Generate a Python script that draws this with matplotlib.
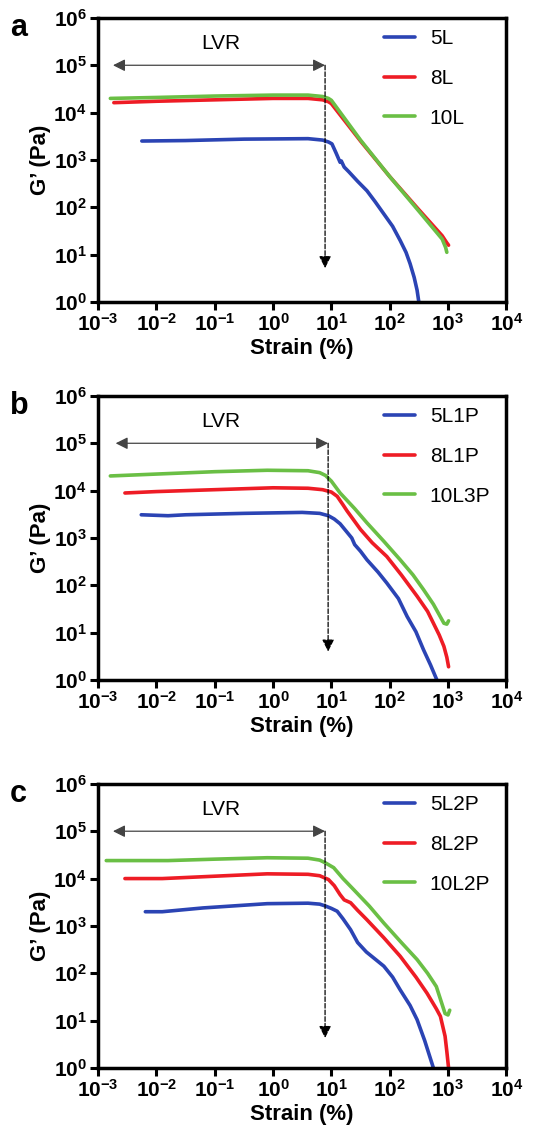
import matplotlib
matplotlib.use("Agg")
import matplotlib.pyplot as plt

plt.rcParams['font.family'] = ['Liberation Sans', 'DejaVu Sans']
plt.rcParams['mathtext.fontset'] = 'custom'
plt.rcParams['mathtext.rm'] = 'Liberation Sans:bold'
plt.rcParams['mathtext.bf'] = 'Liberation Sans:bold'

# colors
blue = '#2b44b4'
red = '#ee1c25'
green = '#6abf45'

# panel a (log10 strain, log10 G')
a_labels = ['5L', '8L', '10L']
a_5L_x = [-2.25, -1.5, -0.5, 0.6, 0.85, 0.95, 1.01, 1.08, 1.15, 1.17, 1.22, 1.3, 1.45, 1.61,
          1.75, 1.9, 2.05, 2.18, 2.28, 2.35, 2.42, 2.47, 2.50]
a_5L_y = [3.40, 3.41, 3.44, 3.45, 3.42, 3.38, 3.34, 3.15, 2.95, 2.98, 2.85, 2.75, 2.55, 2.35,
          2.12, 1.86, 1.60, 1.30, 1.05, 0.81, 0.52, 0.25, 0.0]
a_8L_x = [-2.73, -2.0, -1.0, 0.0, 0.6, 0.85, 0.95, 1.0, 1.5, 2.0, 2.5, 2.9, 2.98, 3.01]
a_8L_y = [4.21, 4.24, 4.27, 4.30, 4.30, 4.27, 4.23, 4.19, 3.40, 2.65, 1.95, 1.40, 1.25, 1.20]
a_10L_x = [-2.79, -2.0, -1.0, 0.0, 0.6, 0.85, 0.95, 1.0, 1.5, 2.0, 2.5, 2.9, 2.96, 2.98]
a_10L_y = [4.30, 4.32, 4.35, 4.37, 4.37, 4.34, 4.30, 4.26, 3.42, 2.65, 1.92, 1.33, 1.15, 1.05]

# panel b
b_labels = ['5L1P', '8L1P', '10L3P']
b_5L1P_x = [-2.26, -1.8, -1.5, -0.5, 0.5, 0.8, 0.95, 1.05, 1.15, 1.25, 1.35, 1.40, 1.50,
            1.61, 1.80, 1.95, 2.15, 2.30, 2.45, 2.58, 2.70, 2.81]
b_5L1P_y = [3.49, 3.47, 3.49, 3.52, 3.54, 3.52, 3.47, 3.40, 3.30, 3.15, 3.00, 2.86, 2.72,
            2.54, 2.28, 2.05, 1.72, 1.34, 1.02, 0.64, 0.32, 0.0]
b_8L1P_x = [-2.54, -2.0, -1.0, 0.0, 0.6, 0.85, 1.0, 1.10, 1.20, 1.27, 1.40, 1.50, 1.70,
            1.95, 2.20, 2.47, 2.65, 2.75, 2.85, 2.93, 2.98, 3.01]
b_8L1P_y = [3.95, 3.98, 4.02, 4.06, 4.05, 4.02, 3.97, 3.88, 3.70, 3.57, 3.35, 3.18, 2.90,
            2.61, 2.22, 1.77, 1.45, 1.20, 0.95, 0.71, 0.48, 0.28]
b_10L3P_x = [-2.79, -2.0, -1.0, -0.1, 0.6, 0.8, 0.90, 1.0, 1.15, 1.40, 1.61, 1.90, 2.18,
             2.40, 2.58, 2.75, 2.93, 2.98, 3.01]
b_10L3P_y = [4.31, 4.35, 4.40, 4.43, 4.42, 4.38, 4.32, 4.20, 3.95, 3.62, 3.32, 2.93, 2.54,
             2.22, 1.91, 1.60, 1.20, 1.18, 1.25]

# panel c
c_labels = ['5L2P', '8L2P', '10L2P']
c_5L2P_x = [-2.19, -1.9, -1.2, -0.1, 0.6, 0.8, 0.90, 1.0, 1.10, 1.20, 1.33, 1.45, 1.60,
            1.75, 1.90, 2.05, 2.18, 2.35, 2.47, 2.60, 2.75]
c_5L2P_y = [3.30, 3.30, 3.38, 3.47, 3.48, 3.46, 3.42, 3.37, 3.31, 3.15, 2.92, 2.65, 2.45,
            2.30, 2.15, 1.92, 1.65, 1.32, 1.02, 0.58, 0.0]
c_8L2P_x = [-2.54, -1.9, -1.0, -0.1, 0.6, 0.8, 0.95, 1.05, 1.15, 1.22, 1.33, 1.45, 1.61,
            1.90, 2.18, 2.45, 2.64, 2.80, 2.87, 2.95, 2.98, 3.01]
c_8L2P_y = [4.00, 4.00, 4.05, 4.10, 4.09, 4.06, 3.98, 3.85, 3.66, 3.55, 3.49, 3.33, 3.13,
            2.75, 2.36, 1.92, 1.58, 1.25, 1.09, 0.67, 0.35, 0.0]
c_10L2P_x = [-2.86, -1.8, -1.0, -0.1, 0.6, 0.80, 0.90, 1.04, 1.20, 1.38, 1.65, 1.90, 2.20,
             2.47, 2.65, 2.80, 2.95, 3.00, 3.03]
c_10L2P_y = [4.38, 4.38, 4.41, 4.44, 4.43, 4.39, 4.33, 4.23, 4.00, 3.77, 3.42, 3.06, 2.65,
             2.29, 2.00, 1.72, 1.15, 1.12, 1.22]

# LVR arrows
lvr_left = [1.8e-3, 2.0e-3, 1.8e-3]
lvr_right = [7.8, 8.8, 7.8]
lvr_bottom = [5.2, 4.0, 4.3]

panels = [
    ('a', a_labels, [(a_5L_x, a_5L_y), (a_8L_x, a_8L_y), (a_10L_x, a_10L_y)]),
    ('b', b_labels, [(b_5L1P_x, b_5L1P_y), (b_8L1P_x, b_8L1P_y), (b_10L3P_x, b_10L3P_y)]),
    ('c', c_labels, [(c_5L2P_x, c_5L2P_y), (c_8L2P_x, c_8L2P_y), (c_10L2P_x, c_10L2P_y)]),
]
bottoms = [0.7353, 0.404, 0.064]
colors = [blue, red, green]

fig = plt.figure(figsize=(5.45, 11.41), dpi=100)

for i, (letter, labels, series) in enumerate(panels):
    ax = fig.add_axes([0.180, bottoms[i], 0.749, 0.249])
    for (xs, ys), lab, col in zip(series, labels, colors):
        ax.plot([10 ** v for v in xs], [10 ** v for v in ys], color=col, lw=2.6,
                label=lab, solid_capstyle='round', solid_joinstyle='round')
    ax.set_xscale('log')
    ax.set_yscale('log')
    ax.set_xlim(1e-3, 1e4)
    ax.set_ylim(1e0, 1e6)
    ax.set_xticks([10.0 ** e for e in range(-3, 5)])
    ax.set_xticklabels([r'$\mathbf{10^{%d}}$' % e for e in range(-3, 5)])
    ax.set_yticks([10.0 ** e for e in range(0, 7)])
    ax.set_yticklabels([r'$\mathbf{10^{%d}}$' % e for e in range(0, 7)])
    ax.minorticks_off()
    ax.tick_params(axis='both', which='major', width=2.2, length=6, labelsize=15,
                   direction='out', pad=2)
    for s in ax.spines.values():
        s.set_linewidth(2.5)
    ax.set_xlabel('Strain (%)', fontsize=16, fontweight='bold', labelpad=2)
    ax.set_ylabel('G\u2019 (Pa)', fontsize=16, fontweight='bold', labelpad=2)

    # LVR arrows
    ax.annotate('', xy=(lvr_left[i], 1e5), xytext=(lvr_right[i], 1e5),
                arrowprops=dict(arrowstyle='<|-|>', color='#444444', lw=0.9,
                                mutation_scale=18, shrinkA=0, shrinkB=0))
    ax.annotate('', xy=(lvr_right[i], lvr_bottom[i]), xytext=(lvr_right[i], 1e5),
                arrowprops=dict(arrowstyle='-|>', color='black', lw=0.9, ls='--',
                                mutation_scale=18, shrinkA=0, shrinkB=0))
    ax.text(0.30, 0.91, 'LVR', transform=ax.transAxes, fontsize=15, ha='center',
            va='center')

    leg = ax.legend(loc='upper left', bbox_to_anchor=(0.68, 0.99), frameon=False,
                    fontsize=15, handlelength=1.5, handletextpad=0.7,
                    labelspacing=1.0, borderaxespad=0)
    for ln in leg.get_lines():
        ln.set_linewidth(2.6)

    fig.text(0.018, bottoms[i] + 0.249 + 0.004, letter, fontsize=22, fontweight='bold',
             va='top', ha='left')

fig.savefig('out.png', dpi=100)
